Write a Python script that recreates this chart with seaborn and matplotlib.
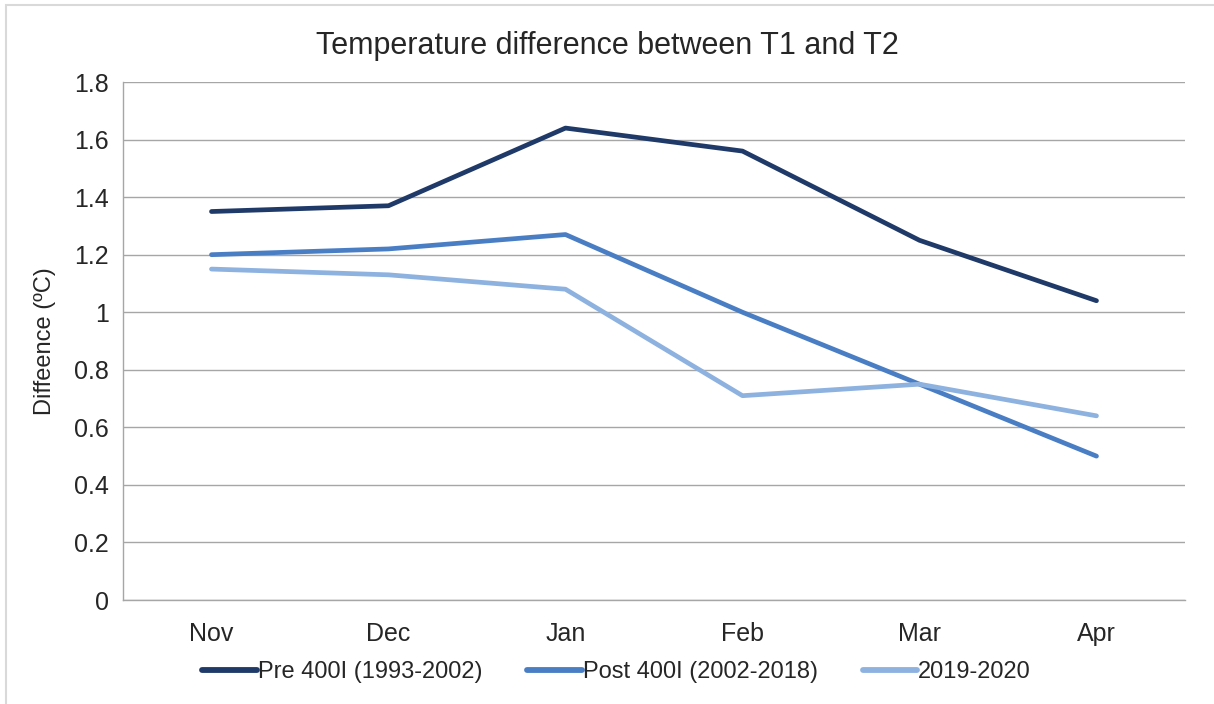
import pandas as pd
import matplotlib.pyplot as plt
import matplotlib.patches as mpatches
import seaborn as sns

months    = ['Nov', 'Dec', 'Jan', 'Feb', 'Mar', 'Apr']
pre_400   = [1.35, 1.37, 1.64, 1.56, 1.25, 1.04]
post_400  = [1.20, 1.22, 1.27, 1.00, 0.75, 0.50]
yr_2019   = [1.15, 1.13, 1.08, 0.71, 0.75, 0.64]
labels    = ['Pre 400I (1993-2002)', 'Post 400I (2002-2018)', '2019-2020']
y_ticks   = [0, 0.2, 0.4, 0.6, 0.8, 1, 1.2, 1.4, 1.6, 1.8]

my_col = ['#1F3A68', '#4A7EC4', '#8DB2E0']

df = pd.DataFrame({'Month': months * 3,
                   'Diff': pre_400 + post_400 + yr_2019,
                   'Series': [labels[0]] * 6 + [labels[1]] * 6 + [labels[2]] * 6})

sns.set_style('white')
plt.rcParams['font.family'] = ['Liberation Sans', 'DejaVu Sans']

fig = plt.figure(figsize=(12.14, 7.04), dpi=100)
ax = fig.add_axes([0.1013, 0.1477, 0.8748, 0.7358])

# outer chart frame (top/left visible only)
fig.patches.append(mpatches.Rectangle((6 / 1214, -0.1), 1.2, 1 - 5 / 704 + 0.1,
                                      transform=fig.transFigure, fill=False,
                                      edgecolor='#D9D9D9', lw=1.5))

sns.lineplot(data=df, x='Month', y='Diff', hue='Series', palette=my_col,
             linewidth=3.4, ax=ax, sort=False, legend=False)

ax.set_xlim(-0.5, 5.5)
ax.set_ylim(0, 1.8)
ax.set_yticks(y_ticks)
ax.set_yticklabels(['0', '0.2', '0.4', '0.6', '0.8', '1', '1.2', '1.4', '1.6', '1.8'])
ax.set_xticks(range(6))
ax.set_xticklabels(months)
ax.set_xticks([i - 0.5 for i in range(7)], minor=True)
ax.tick_params(axis='x', which='major', length=0, pad=16, labelsize=18)
ax.tick_params(axis='x', which='minor', length=6, color='#A6A6A6', width=1)
ax.tick_params(axis='y', which='major', length=6, color='#A6A6A6', width=1,
               labelsize=18, pad=4)
ax.grid(axis='y', color='#A6A6A6', lw=1)
ax.set_axisbelow(True)
for s in ['top', 'right']:
    ax.spines[s].set_visible(False)
for s in ['left', 'bottom']:
    ax.spines[s].set_color('#A6A6A6')
    ax.spines[s].set_linewidth(1)

ax.set_xlabel('')
ax.set_ylabel('Diffeence (ºC)', fontsize=17)
ax.yaxis.set_label_coords(-0.063, 0.5)
fig.text(0.5, 0.935, 'Temperature difference between T1 and T2', ha='center',
         va='center', fontsize=22)

handles = [plt.Line2D([], [], color=c, lw=4.2) for c in my_col]
fig.legend(handles, labels, loc='center', bbox_to_anchor=(0.508, 0.045), ncol=3,
           frameon=False, fontsize=17, handlelength=2.3, handletextpad=0.05,
           columnspacing=1.9)

plt.savefig('out.png', dpi=100)
plt.close()
